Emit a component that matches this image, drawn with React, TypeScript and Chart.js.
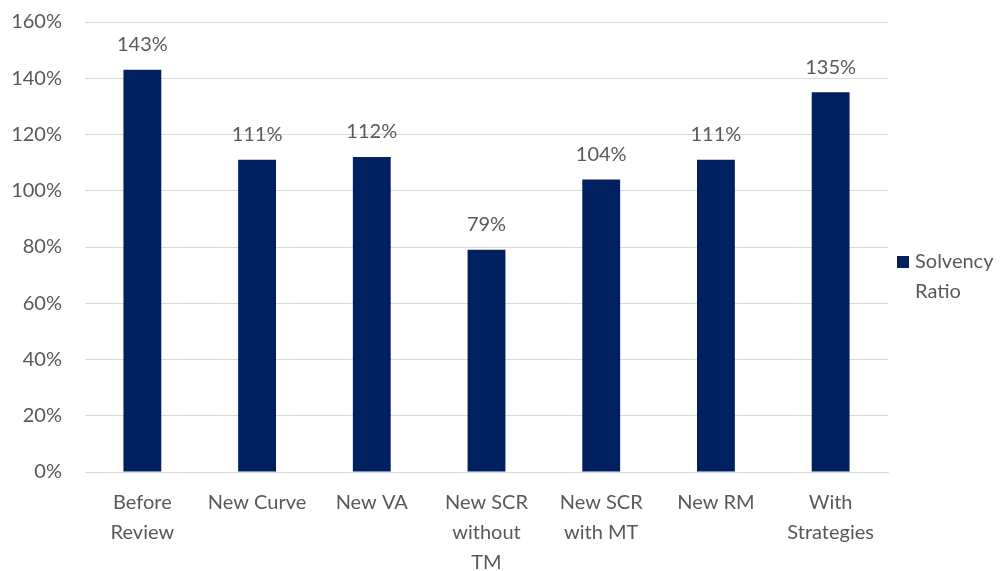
import React, { useEffect, useRef } from "react";
import { Chart, registerables } from "chart.js";

Chart.register(...registerables);

const categories: (string | string[])[] = [
  ["Before", "Review"],
  "New Curve",
  "New VA",
  ["New SCR", "without", "TM"],
  ["New SCR", "with MT"],
  "New RM",
  ["With", "Strategies"],
];
const solvencyRatio = [143, 111, 112, 79, 104, 111, 135];
const seriesName = ["Solvency", "Ratio"];
const yTicks = [0, 20, 40, 60, 80, 100, 120, 140, 160];

const BAR_COLOR = "#002060";
const TEXT_COLOR = "#595959";
const FONT_FAMILY = "Lato, 'Open Sans', sans-serif";

// Writes the percentage above each bar
const valueLabels = {
  id: "valueLabels",
  afterDatasetsDraw(chart: any) {
    const ctx = chart.ctx;
    const meta = chart.getDatasetMeta(0);
    ctx.save();
    ctx.font = `20px ${FONT_FAMILY}`;
    ctx.fillStyle = TEXT_COLOR;
    ctx.textAlign = "center";
    ctx.textBaseline = "middle";
    meta.data.forEach((bar: any, i: number) => {
      ctx.fillText(`${solvencyRatio[i]}%`, bar.x, bar.y - 25);
    });
    ctx.restore();
  },
};

// Legend on the right: a square marker with a two-line series name
const sideLegend = {
  id: "sideLegend",
  afterDraw(chart: any) {
    const ctx = chart.ctx;
    const area = chart.chartArea;
    const x = area.right + 9;
    const y0 = (area.top + area.bottom) / 2 + 15;
    ctx.save();
    ctx.fillStyle = BAR_COLOR;
    ctx.fillRect(x, y0 - 6, 12, 12);
    ctx.font = `20px ${FONT_FAMILY}`;
    ctx.fillStyle = TEXT_COLOR;
    ctx.textAlign = "left";
    ctx.textBaseline = "middle";
    seriesName.forEach((line, i) => {
      ctx.fillText(line, x + 18, y0 + i * 30);
    });
    ctx.restore();
  },
};

export default function App() {
  const canvasRef = useRef<HTMLCanvasElement>(null);

  useEffect(() => {
    if (!canvasRef.current) return;
    const chart = new Chart(canvasRef.current, {
      type: "bar",
      data: {
        labels: categories,
        datasets: [
          {
            label: seriesName.join(" "),
            data: solvencyRatio,
            backgroundColor: BAR_COLOR,
            barPercentage: 0.66,
            categoryPercentage: 0.5,
          },
        ],
      },
      options: {
        animation: false,
        responsive: false,
        maintainAspectRatio: false,
        layout: { padding: { top: 22, right: 113, bottom: 0, left: 0 } },
        plugins: {
          legend: { display: false },
          tooltip: { enabled: false },
        },
        scales: {
          x: {
            grid: { display: false, drawTicks: false },
            border: { display: true, color: "#d9d9d9", width: 1 },
            ticks: {
              color: TEXT_COLOR,
              font: { family: FONT_FAMILY, size: 20, lineHeight: 1.5 },
              padding: 16,
              maxRotation: 0,
              autoSkip: false,
            },
            afterFit(scale: any) {
              scale.height = 99;
            },
          },
          y: {
            min: 0,
            max: 160,
            afterBuildTicks(scale: any) {
              scale.ticks = yTicks.map((v) => ({ value: v }));
            },
            grid: { color: "#d9d9d9", lineWidth: 1, drawTicks: false },
            border: { display: false },
            ticks: {
              color: TEXT_COLOR,
              font: { family: FONT_FAMILY, size: 20 },
              padding: 23,
              callback: (v: any) => `${v}%`,
            },
            afterFit(scale: any) {
              scale.width = 85;
              scale.paddingTop = 0;
              scale.paddingBottom = 0;
            },
          },
        },
      },
      plugins: [valueLabels, sideLegend],
    });
    return () => chart.destroy();
  }, []);

  return (
    <div style={{ position: "fixed", left: 0, top: 0, width: 1001, height: 571, background: "#fff" }}>
      <canvas ref={canvasRef} width={1001} height={571} />
    </div>
  );
}
